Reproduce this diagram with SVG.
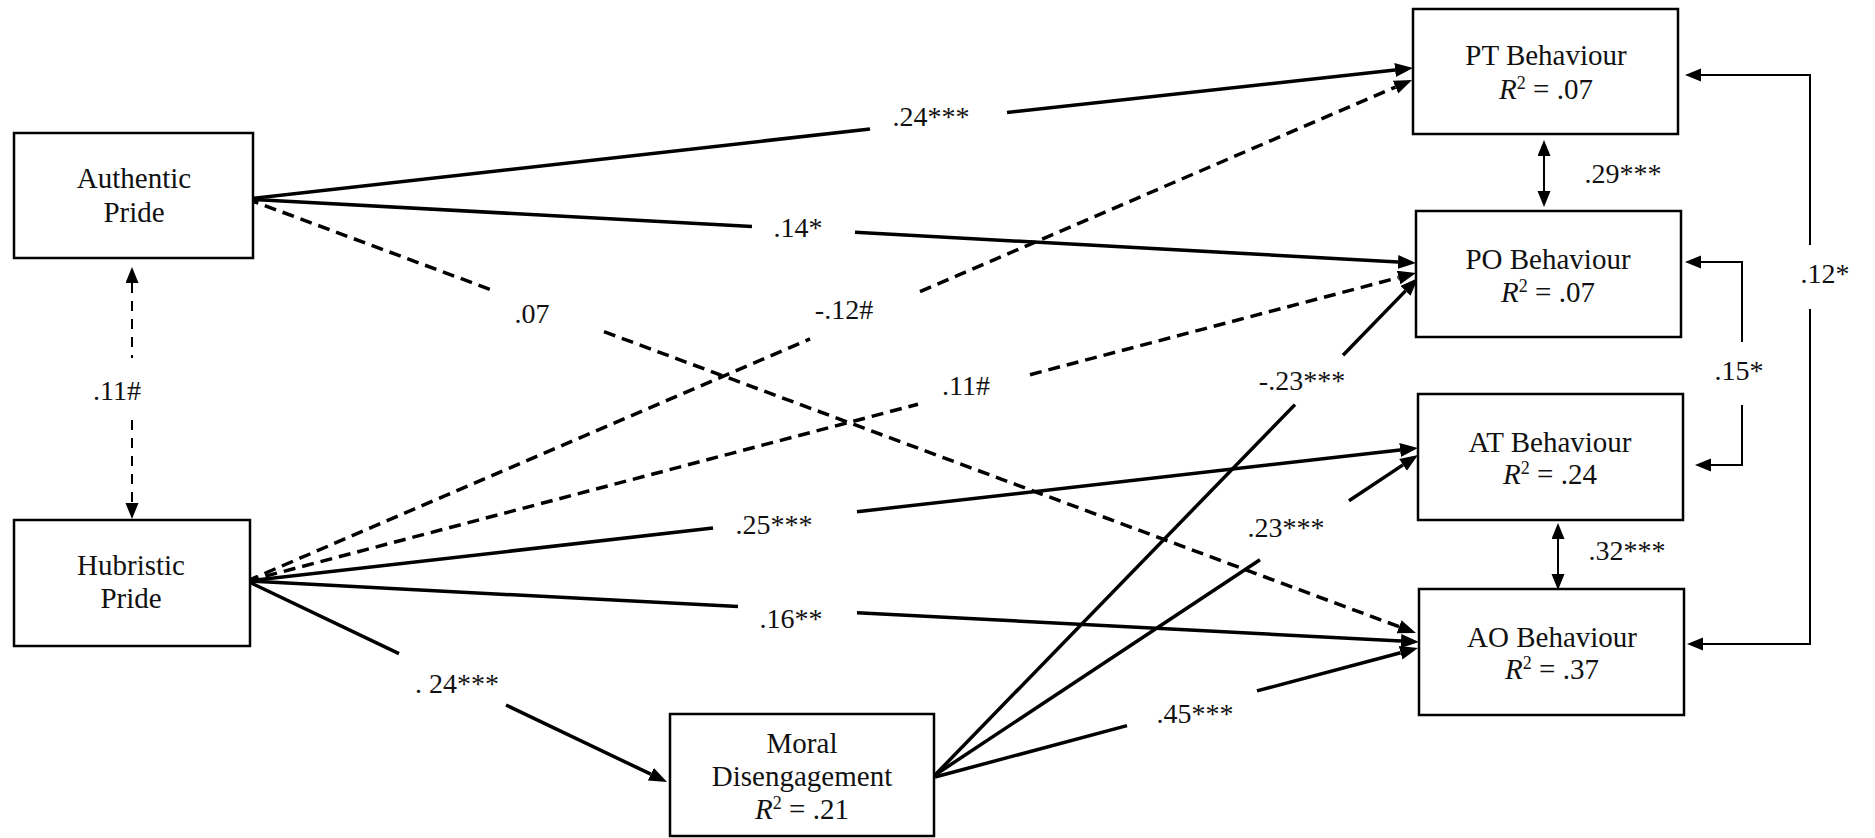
<svg xmlns="http://www.w3.org/2000/svg" width="1875" height="838" viewBox="0 0 1875 838">
<style>
  .box { fill: #fff; stroke: #000; stroke-width: 2.5; }
  .t { font-family: "Liberation Serif", "Times New Roman", serif; font-size: 29px; fill: #111; text-anchor: middle; }
  .lbl { font-family: "Liberation Serif", "Times New Roman", serif; font-size: 28px; fill: #111; text-anchor: middle; }
  .main { fill: none; stroke: #000; stroke-width: 3.5; }
  .dash { stroke-dasharray: 12 7; }
  .thin { fill: none; stroke: #000; stroke-width: 2; }
  .dash2 { stroke-dasharray: 10 8; }
</style>
<defs>
  <marker id="ah" markerUnits="userSpaceOnUse" markerWidth="19" markerHeight="15" refX="0" refY="7" orient="auto">
    <path d="M0,0 L18,7 L0,14 z" fill="#000"/>
  </marker>
  <marker id="ahs" markerUnits="userSpaceOnUse" markerWidth="17" markerHeight="14" refX="0" refY="6.5" orient="auto-start-reverse">
    <path d="M0,0 L16,6.5 L0,13 z" fill="#000"/>
  </marker>
</defs>

<g id="connectors">
  <!-- AP -> PT .24*** -->
  <line class="main" x1="247" y1="199" x2="870" y2="129"/>
  <line class="main" x1="1007" y1="112.4" x2="1395.1" y2="70" marker-end="url(#ah)"/>
  <!-- AP -> PO .14* -->
  <line class="main" x1="247" y1="199" x2="752" y2="226.6"/>
  <line class="main" x1="855" y1="232.2" x2="1398" y2="262" marker-end="url(#ah)"/>
  <!-- AP -> AO .07 dashed -->
  <line class="main dash" x1="247" y1="199" x2="493" y2="290.5"/>
  <line class="main dash" x1="604" y1="331.7" x2="1399.1" y2="626.7" marker-end="url(#ah)"/>
  <!-- HP -> PT -.12# dashed -->
  <line class="main dash" x1="247" y1="581" x2="810" y2="338.9"/>
  <line class="main dash" x1="920" y1="291.6" x2="1395.5" y2="87.1" marker-end="url(#ah)"/>
  <!-- HP -> PO .11# dashed -->
  <line class="main dash" x1="247" y1="581" x2="918" y2="404.2"/>
  <line class="main dash" x1="1030" y1="374.7" x2="1398.6" y2="277.6" marker-end="url(#ah)"/>
  <!-- HP -> AT .25*** -->
  <line class="main" x1="247" y1="581" x2="713" y2="528.1"/>
  <line class="main" x1="857" y1="511.7" x2="1400.1" y2="450" marker-end="url(#ah)"/>
  <!-- HP -> AO .16** -->
  <line class="main" x1="247" y1="581" x2="738" y2="606.6"/>
  <line class="main" x1="857" y1="612.7" x2="1401" y2="641.1" marker-end="url(#ah)"/>
  <!-- HP -> MD . 24*** -->
  <line class="main" x1="247" y1="581" x2="399" y2="653.7"/>
  <line class="main" x1="506" y1="705" x2="650.8" y2="774.2" marker-end="url(#ah)"/>
  <!-- MD -> PO -.23*** -->
  <line class="main" x1="935" y1="775" x2="1295" y2="404.6"/>
  <line class="main" x1="1343" y1="355.2" x2="1405.5" y2="290.9" marker-end="url(#ah)"/>
  <!-- MD -> AT .23*** -->
  <line class="main" x1="935" y1="775" x2="1260" y2="559.7"/>
  <line class="main" x1="1349" y1="500.7" x2="1403" y2="464.9" marker-end="url(#ah)"/>
  <!-- MD -> AO .45*** -->
  <line class="main" x1="935" y1="777" x2="1127" y2="725.6"/>
  <line class="main" x1="1257" y1="690.9" x2="1400.6" y2="652.7" marker-end="url(#ah)"/>
  <!-- AP <-> HP .11# dashed -->
  <line class="thin dash2" x1="132" y1="283" x2="132" y2="358" marker-start="url(#ahs)"/>
  <line class="thin dash2" x1="132" y1="420" x2="132" y2="503" marker-end="url(#ahs)"/>
  <!-- PT <-> PO .29*** -->
  <line class="thin" x1="1544" y1="156" x2="1544" y2="191" marker-start="url(#ahs)" marker-end="url(#ahs)"/>
  <!-- AT <-> AO .32*** -->
  <line class="thin" x1="1558" y1="539" x2="1558" y2="574" marker-start="url(#ahs)" marker-end="url(#ahs)"/>
  <!-- PT <-> AO .12* -->
  <polyline class="thin" points="1810,245 1810,75 1701,75" marker-end="url(#ahs)"/>
  <polyline class="thin" points="1810,309 1810,644 1703,644" marker-end="url(#ahs)"/>
  <!-- PO <-> AT .15* -->
  <polyline class="thin" points="1742,342 1742,262 1701,262" marker-end="url(#ahs)"/>
  <polyline class="thin" points="1742,405 1742,465 1711,465" marker-end="url(#ahs)"/>
</g>

<g id="labels">
  <text class="lbl" x="931" y="126">.24***</text>
  <text class="lbl" x="798" y="237">.14*</text>
  <text class="lbl" x="532" y="323">.07</text>
  <text class="lbl" x="844" y="319">-.12#</text>
  <text class="lbl" x="966" y="395">.11#</text>
  <text class="lbl" x="774" y="534">.25***</text>
  <text class="lbl" x="791" y="628">.16**</text>
  <text class="lbl" x="457" y="693">. 24***</text>
  <text class="lbl" x="1302" y="390">-.23***</text>
  <text class="lbl" x="1286" y="537">.23***</text>
  <text class="lbl" x="1195" y="723">.45***</text>
  <text class="lbl" x="1623" y="183">.29***</text>
  <text class="lbl" x="1627" y="560">.32***</text>
  <text class="lbl" x="1825" y="283">.12*</text>
  <text class="lbl" x="1739" y="380">.15*</text>
  <text class="lbl" x="117" y="400">.11#</text>
</g>

<g id="authentic-pride">
  <rect class="box" x="14" y="133" width="239" height="125"/>
  <text class="t" x="134" y="188">Authentic</text>
  <text class="t" x="134" y="222">Pride</text>
</g>
<g id="hubristic-pride">
  <rect class="box" x="14" y="520" width="236" height="126"/>
  <text class="t" x="131" y="575">Hubristic</text>
  <text class="t" x="131" y="608">Pride</text>
</g>
<g id="moral-disengagement">
  <rect class="box" x="670" y="714" width="264" height="122"/>
  <text class="t" x="802" y="753">Moral</text>
  <text class="t" x="802" y="786">Disengagement</text>
  <text class="t" x="802" y="819"><tspan font-style="italic">R</tspan><tspan font-size="18" dy="-10">2</tspan><tspan dy="10"> = .21</tspan></text>
</g>
<g id="pt-behaviour">
  <rect class="box" x="1413" y="9" width="265" height="125"/>
  <text class="t" x="1546" y="65">PT Behaviour</text>
  <text class="t" x="1546" y="99"><tspan font-style="italic">R</tspan><tspan font-size="18" dy="-10">2</tspan><tspan dy="10"> = .07</tspan></text>
</g>
<g id="po-behaviour">
  <rect class="box" x="1416" y="211" width="265" height="126"/>
  <text class="t" x="1548" y="269">PO Behaviour</text>
  <text class="t" x="1548" y="302"><tspan font-style="italic">R</tspan><tspan font-size="18" dy="-10">2</tspan><tspan dy="10"> = .07</tspan></text>
</g>
<g id="at-behaviour">
  <rect class="box" x="1418" y="394" width="265" height="126"/>
  <text class="t" x="1550" y="452">AT Behaviour</text>
  <text class="t" x="1550" y="484"><tspan font-style="italic">R</tspan><tspan font-size="18" dy="-10">2</tspan><tspan dy="10"> = .24</tspan></text>
</g>
<g id="ao-behaviour">
  <rect class="box" x="1419" y="589" width="265" height="126"/>
  <text class="t" x="1552" y="647">AO Behaviour</text>
  <text class="t" x="1552" y="679"><tspan font-style="italic">R</tspan><tspan font-size="18" dy="-10">2</tspan><tspan dy="10"> = .37</tspan></text>
</g>
</svg>
